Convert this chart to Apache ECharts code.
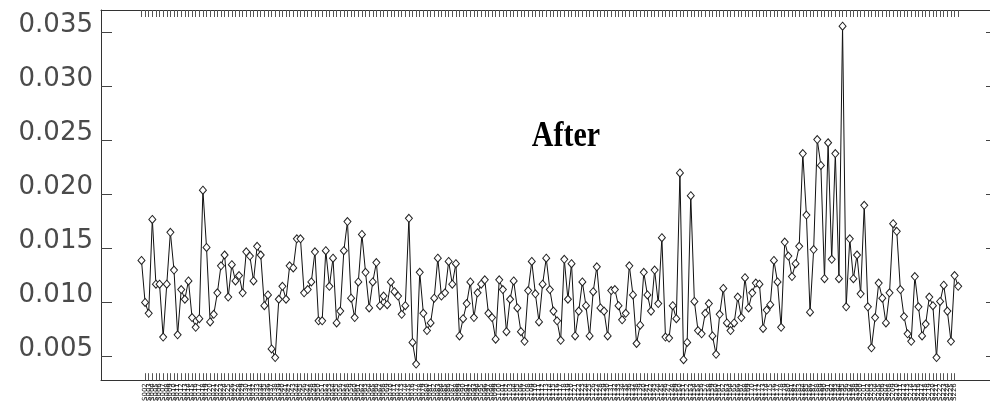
<!DOCTYPE html>
<html>
<head>
<meta charset="utf-8">
<script src="https://cdn.jsdelivr.net/npm/echarts@6/dist/echarts.min.js"></script>
<style>html,body{margin:0;padding:0;background:#fff}#c{width:990px;height:404px}</style>
</head>
<body>
<div id="c"></div>
<script>
const chartTitle = "After";
const yTickValues = [0.005, 0.010, 0.015, 0.020, 0.025, 0.030, 0.035];
const values = [
0.0139,0.0100,0.0090,0.0177,0.0117,0.0117,0.0068,0.0117,0.0165,0.0130,
0.0070,0.0112,0.0103,0.0120,0.0086,0.0077,0.0085,0.0204,0.0151,0.0082,
0.0089,0.0109,0.0134,0.0144,0.0105,0.0135,0.0120,0.0125,0.0109,0.0147,
0.0143,0.0120,0.0152,0.0144,0.0097,0.0107,0.0057,0.0049,0.0103,0.0115,
0.0103,0.0134,0.0132,0.0159,0.0159,0.0109,0.0112,0.0119,0.0147,0.0083,
0.0083,0.0148,0.0115,0.0141,0.0081,0.0092,0.0148,0.0175,0.0104,0.0086,
0.0119,0.0163,0.0128,0.0095,0.0119,0.0137,0.0097,0.0106,0.0098,0.0119,
0.0110,0.0106,0.0089,0.0097,0.0178,0.0063,0.0043,0.0128,0.0090,0.0074,
0.0081,0.0104,0.0141,0.0106,0.0109,0.0138,0.0117,0.0136,0.0069,0.0085,
0.0099,0.0119,0.0086,0.0109,0.0117,0.0121,0.0090,0.0086,0.0066,0.0121,
0.0112,0.0073,0.0103,0.0120,0.0095,0.0073,0.0064,0.0111,0.0138,0.0108,
0.0082,0.0117,0.0141,0.0112,0.0092,0.0083,0.0065,0.0140,0.0103,0.0136,
0.0069,0.0092,0.0119,0.0097,0.0069,0.0110,0.0133,0.0095,0.0092,0.0069,
0.0111,0.0112,0.0097,0.0084,0.0090,0.0134,0.0107,0.0062,0.0079,0.0128,
0.0107,0.0092,0.0130,0.0099,0.0160,0.0068,0.0067,0.0097,0.0085,0.0220,
0.0047,0.0063,0.0199,0.0101,0.0074,0.0071,0.0090,0.0099,0.0069,0.0052,
0.0089,0.0113,0.0081,0.0074,0.0081,0.0105,0.0086,0.0123,0.0095,0.0109,
0.0118,0.0117,0.0076,0.0093,0.0098,0.0139,0.0119,0.0077,0.0156,0.0143,
0.0124,0.0136,0.0152,0.0238,0.0181,0.0091,0.0149,0.0251,0.0227,0.0122,
0.0248,0.0140,0.0238,0.0122,0.0356,0.0096,0.0159,0.0122,0.0144,0.0108,
0.0190,0.0096,0.0058,0.0086,0.0118,0.0104,0.0081,0.0109,0.0173,0.0166,
0.0112,0.0087,0.0071,0.0064,0.0124,0.0096,0.0069,0.0080,0.0105,0.0097,
0.0049,0.0101,0.0116,0.0092,0.0064,0.0125,0.0115
];
const sampleIndex = values.map((v, i) => i + 1);
const sampleLabels = sampleIndex.map(i => 'S' + String(i).padStart(3, '0'));

const chart = echarts.init(document.getElementById('c'), null, {renderer: 'canvas'});
const xBase = {
  type: 'value', min: -10.2, max: 235.8,
  splitLine: {show: false},
  axisLine: {show: true, onZero: false, lineStyle: {color: '#333', width: 1}},
  axisTick: {show: true, inside: true, length: 7, customValues: sampleIndex, lineStyle: {color: '#555', width: 1}}
};
chart.setOption({
  animation: false,
  backgroundColor: '#fff',
  grid: {left: 101, right: 0, top: 10, bottom: 22, containLabel: false},
  xAxis: [
    Object.assign({}, xBase, {
      position: 'bottom',
      axisLabel: {show: true, customValues: sampleIndex, interval: 0, rotate: 90, fontSize: 7, margin: 3, color: '#111', fontFamily: 'DejaVu Sans', hideOverlap: false,
        formatter: v => sampleLabels[v - 1] || ''}
    }),
    Object.assign({}, xBase, {position: 'top', axisLabel: {show: false}})
  ],
  yAxis: [
    {
      type: 'value', min: 0.0028, max: 0.0371, position: 'left',
      splitLine: {show: false},
      axisLine: {show: true, onZero: false, lineStyle: {color: '#333', width: 1}},
      axisTick: {show: true, inside: true, length: 11, customValues: yTickValues, lineStyle: {color: '#444', width: 1}},
      axisLabel: {
        customValues: yTickValues, margin: 8, fontSize: 26, color: '#4a4a4a', fontFamily: 'DejaVu Sans',
        verticalAlign: 'bottom', lineHeight: 14,
        formatter: v => v.toFixed(3)
      }
    },
    {
      type: 'value', min: 0.0028, max: 0.0371, position: 'right',
      splitLine: {show: false},
      axisLine: {show: false, onZero: false},
      axisTick: {show: true, inside: true, length: 4, customValues: yTickValues, lineStyle: {color: '#444', width: 1}},
      axisLabel: {show: false}
    }
  ],
  graphic: [{
    type: 'text', x: 566, y: 155, scaleY: 1.2,
    style: {text: chartTitle, font: 'bold 30px "Liberation Serif"', fill: '#000', textAlign: 'center', textVerticalAlign: 'bottom'}
  }],
  series: [{
    type: 'line',
    data: values.map((v, i) => [sampleIndex[i], v]),
    symbol: 'diamond', symbolSize: [7, 8], showSymbol: true,
    lineStyle: {color: '#111', width: 1},
    itemStyle: {color: '#fff', borderColor: '#222', borderWidth: 1},
    emphasis: {disabled: true}
  }]
});
</script>
</body>
</html>
